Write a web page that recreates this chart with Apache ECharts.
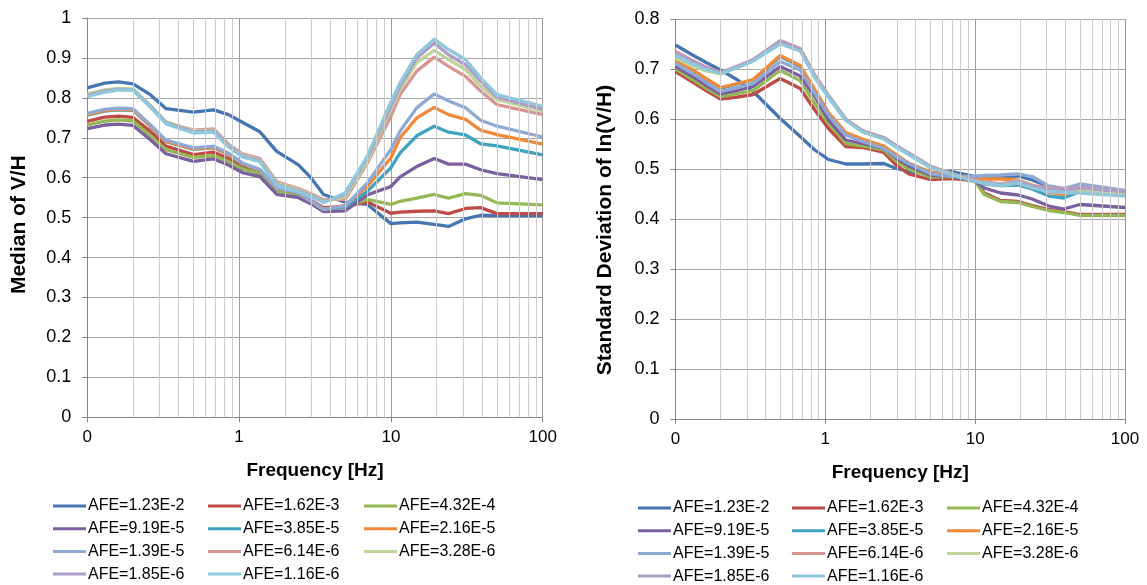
<!DOCTYPE html>
<html>
<head>
<meta charset="utf-8">
<script src="https://cdn.jsdelivr.net/npm/echarts@6/dist/echarts.min.js"></script>
<style>
html,body{margin:0;padding:0;background:#fff;}
#c{width:1147px;height:585px;}
</style>
</head>
<body>
<div id="c"></div>
<script>
// ---- data ----
const FREQ = [0.1, 0.13, 0.16, 0.2, 0.26, 0.33, 0.5, 0.68, 0.85, 1.05, 1.37, 1.77, 2.46, 2.97, 3.6, 5, 7, 10, 11.5, 14.8, 19.3, 24, 31, 39, 50, 100];
const MINOR_FREQ = [0.2,0.3,0.4,0.5,0.6,0.7,0.8,0.9,2,3,4,5,6,7,8,9,20,30,40,50,60,70,80,90];
const SERIES_NAMES = ['AFE=1.23E-2','AFE=1.62E-3','AFE=4.32E-4','AFE=9.19E-5','AFE=3.85E-5','AFE=2.16E-5','AFE=1.39E-5','AFE=6.14E-6','AFE=3.28E-6','AFE=1.85E-6','AFE=1.16E-6'];

// Median of V/H
const med_1_23e2 = [0.825,0.837,0.840,0.835,0.808,0.773,0.764,0.770,0.758,0.739,0.715,0.666,0.632,0.600,0.558,0.539,0.533,0.485,0.487,0.489,0.483,0.478,0.497,0.506,0.505,0.505];
const med_1_62e3 = [0.741,0.752,0.754,0.751,0.716,0.679,0.658,0.664,0.648,0.629,0.617,0.571,0.558,0.543,0.525,0.528,0.539,0.511,0.514,0.516,0.517,0.510,0.523,0.525,0.510,0.510];
const med_4_32e4 = [0.732,0.742,0.745,0.742,0.705,0.670,0.651,0.655,0.641,0.622,0.610,0.567,0.554,0.539,0.522,0.525,0.546,0.533,0.541,0.549,0.558,0.549,0.560,0.556,0.537,0.532];
const med_9_19e5 = [0.723,0.732,0.734,0.731,0.695,0.660,0.641,0.647,0.632,0.613,0.603,0.558,0.550,0.535,0.515,0.517,0.557,0.578,0.602,0.628,0.648,0.634,0.634,0.620,0.610,0.595];
const med_3_85e5 = [0.757,0.767,0.770,0.769,0.729,0.690,0.671,0.675,0.658,0.634,0.618,0.572,0.560,0.540,0.520,0.527,0.566,0.625,0.662,0.705,0.729,0.714,0.707,0.685,0.680,0.657];
const med_2_16e5 = [0.758,0.768,0.771,0.770,0.730,0.691,0.672,0.676,0.659,0.635,0.619,0.573,0.561,0.541,0.521,0.531,0.578,0.650,0.700,0.750,0.776,0.758,0.746,0.719,0.708,0.684];
const med_1_39e5 = [0.761,0.771,0.774,0.773,0.733,0.694,0.675,0.679,0.662,0.637,0.621,0.575,0.562,0.542,0.521,0.529,0.587,0.671,0.717,0.775,0.810,0.792,0.775,0.744,0.729,0.702];
const med_6_14e6 = [0.808,0.818,0.822,0.821,0.780,0.739,0.719,0.722,0.684,0.660,0.648,0.590,0.573,0.560,0.545,0.546,0.637,0.754,0.808,0.867,0.902,0.879,0.854,0.817,0.783,0.758];
const med_3_28e6 = [0.810,0.820,0.824,0.823,0.781,0.740,0.717,0.719,0.681,0.656,0.644,0.586,0.570,0.557,0.541,0.552,0.642,0.771,0.821,0.888,0.919,0.896,0.871,0.829,0.796,0.767];
const med_1_85e6 = [0.806,0.817,0.821,0.820,0.779,0.738,0.715,0.717,0.680,0.654,0.642,0.583,0.567,0.555,0.539,0.558,0.650,0.779,0.829,0.900,0.937,0.908,0.883,0.842,0.802,0.772];
const med_1_16e6 = [0.803,0.814,0.820,0.819,0.777,0.735,0.712,0.714,0.677,0.652,0.640,0.581,0.565,0.553,0.538,0.562,0.654,0.790,0.838,0.908,0.947,0.921,0.896,0.850,0.808,0.779];

// Standard deviation of ln(V/H)
const sd_1_23e2 = [0.748,0.728,0.713,0.698,0.678,0.655,0.601,0.565,0.538,0.519,0.510,0.510,0.511,0.501,0.495,0.490,0.495,0.485,0.485,0.485,0.486,0.478,0.465,0.457,0.462,0.453];
const sd_1_62e3 = [0.695,0.674,0.657,0.640,0.644,0.649,0.681,0.661,0.618,0.581,0.545,0.543,0.533,0.508,0.490,0.479,0.481,0.477,0.452,0.437,0.435,0.427,0.419,0.415,0.409,0.409];
const sd_4_32e4 = [0.700,0.679,0.662,0.645,0.651,0.657,0.697,0.677,0.631,0.591,0.551,0.546,0.538,0.516,0.500,0.484,0.485,0.475,0.449,0.435,0.433,0.425,0.417,0.413,0.407,0.407];
const sd_9_19e5 = [0.705,0.685,0.667,0.650,0.657,0.665,0.705,0.686,0.645,0.598,0.558,0.551,0.541,0.522,0.506,0.488,0.485,0.475,0.462,0.452,0.448,0.440,0.426,0.420,0.429,0.423];
const sd_3_85e5 = [0.715,0.697,0.679,0.661,0.670,0.678,0.725,0.705,0.658,0.611,0.571,0.558,0.545,0.528,0.511,0.493,0.486,0.476,0.470,0.467,0.468,0.460,0.446,0.442,0.455,0.448];
const sd_2_16e5 = [0.716,0.698,0.681,0.663,0.671,0.679,0.727,0.707,0.659,0.613,0.573,0.560,0.546,0.529,0.512,0.494,0.488,0.481,0.480,0.480,0.478,0.468,0.454,0.449,0.459,0.455];
const sd_1_39e5 = [0.711,0.691,0.673,0.655,0.663,0.671,0.715,0.698,0.651,0.608,0.568,0.555,0.541,0.525,0.511,0.491,0.485,0.485,0.487,0.488,0.490,0.485,0.466,0.461,0.470,0.457];
const sd_6_14e6 = [0.735,0.717,0.704,0.693,0.706,0.719,0.757,0.741,0.688,0.647,0.600,0.577,0.563,0.547,0.532,0.506,0.491,0.478,0.474,0.470,0.476,0.467,0.462,0.460,0.463,0.454];
const sd_3_28e6 = [0.722,0.706,0.696,0.690,0.703,0.716,0.752,0.738,0.684,0.644,0.597,0.574,0.560,0.544,0.530,0.505,0.490,0.476,0.472,0.468,0.477,0.466,0.459,0.458,0.456,0.452];
const sd_1_85e6 = [0.733,0.715,0.702,0.692,0.705,0.718,0.756,0.740,0.686,0.646,0.599,0.576,0.562,0.546,0.531,0.505,0.490,0.476,0.472,0.468,0.476,0.466,0.460,0.459,0.462,0.455];
const sd_1_16e6 = [0.727,0.710,0.699,0.691,0.703,0.716,0.750,0.736,0.683,0.643,0.597,0.574,0.560,0.544,0.529,0.503,0.489,0.475,0.471,0.467,0.472,0.462,0.455,0.453,0.452,0.446];

const MEDIAN = [med_1_23e2,med_1_62e3,med_4_32e4,med_9_19e5,med_3_85e5,med_2_16e5,med_1_39e5,med_6_14e6,med_3_28e6,med_1_85e6,med_1_16e6];
const STDEV = [sd_1_23e2,sd_1_62e3,sd_4_32e4,sd_9_19e5,sd_3_85e5,sd_2_16e5,sd_1_39e5,sd_6_14e6,sd_3_28e6,sd_1_85e6,sd_1_16e6];

// ---- styling ----
const COLORS = ['#4676b2','#be4b48','#94b853','#7c5f9e','#3fa3bf','#f08a3a','#8fa9d6','#d99593','#bdd597','#ae9dc8','#8fc8dc'];
const FONT = 'Liberation Sans';

const chart = echarts.init(document.getElementById('c'), null, {renderer:'canvas'});

function xAxisDef(gi){
  return {
    type:'log', logBase:10, min:0.1, max:100, gridIndex:gi,
    axisLine:{show:true, onZero:false, lineStyle:{color:'#868686', width:1}},
    axisTick:{show:true, length:5, lineStyle:{color:'#868686'}},
    axisLabel:{color:'#000', fontSize:17, fontFamily:FONT, margin:12,
      formatter:v => v < 1 ? '0' : String(Math.round(v))},
    splitLine:{show:true, lineStyle:{color:'#9a9a9a', width:1}},
    minorTick:{show:false}, minorSplitLine:{show:false},
    name:'Frequency [Hz]', nameLocation:'middle', nameGap:44,
    nameTextStyle:{color:'#000', fontSize:19, fontWeight:'bold', fontFamily:FONT}
  };
}
function yAxisDef(gi, max, name, gap, shift){
  return {
    type:'value', min:0, max:max, interval:0.1, gridIndex:gi,
    axisLine:{show:true, lineStyle:{color:'#868686', width:1}},
    axisTick:{show:true, length:5, lineStyle:{color:'#868686'}},
    axisLabel:{color:'#000', fontSize:18, fontFamily:FONT, margin:16,
      formatter:v => String(Math.round(v*10)/10)},
    splitLine:{show:true, lineStyle:{color:'#a6a6a6', width:1}},
    name:name, nameLocation:'middle', nameGap:gap,
    nameTextStyle:{color:'#000', fontSize:21, fontWeight:'bold', fontFamily:FONT, padding:[0,shift,0,0]}
  };
}

const series = [];
[0,1].forEach(gi => {
  series.push({
    type:'line', name:'minor'+gi, xAxisIndex:gi, yAxisIndex:gi, data:[], z:1,
    silent:true, symbol:'none',
    markLine:{silent:true, symbol:['none','none'], label:{show:false},
      lineStyle:{color:'#cbcbcb', width:1, type:'solid'},
      emphasis:{disabled:true},
      data: MINOR_FREQ.map(v => ({xAxis:v}))}
  });
});
const sets = [MEDIAN, STDEV];
sets.forEach((set, gi) => {
  set.forEach((vals, i) => {
    series.push({
      type:'line', name:SERIES_NAMES[i], xAxisIndex:gi, yAxisIndex:gi, z:3,
      data: FREQ.map((f, k) => [f, vals[k]]),
      symbol:'none', showSymbol:false, smooth:false,
      lineStyle:{color:COLORS[i], width:3.3},
      itemStyle:{color:COLORS[i]},
      emphasis:{disabled:true}
    });
  });
});

const COLS = [
  [SERIES_NAMES[0],SERIES_NAMES[3],SERIES_NAMES[6],SERIES_NAMES[9]],
  [SERIES_NAMES[1],SERIES_NAMES[4],SERIES_NAMES[7],SERIES_NAMES[10]],
  [SERIES_NAMES[2],SERIES_NAMES[5],SERIES_NAMES[8]]
];
const LEG_TEXT = {color:'#000', fontSize:16, fontFamily:FONT, padding:[0,0,0,-3]};
const legends = [];
const legendPos = [
  {lefts:[53,208,364], top:498},
  {lefts:[638,792,947], top:500}
];
legendPos.forEach(p => {
  COLS.forEach((col, ci) => {
    legends.push({
      orient:'vertical', left:p.lefts[ci], top:p.top, padding:0,
      itemWidth:33, itemHeight:14, itemGap:6.7,
      icon:'path://M0,6 L33,6 L33,9 L0,9 Z',
      selectedMode:false,
      textStyle:LEG_TEXT,
      data: col.map(n => ({name:n, textStyle:LEG_TEXT, itemStyle:{color:COLORS[SERIES_NAMES.indexOf(n)]}}))
    });
  });
});

chart.setOption({
  animation:false,
  backgroundColor:'#fff',
  textStyle:{fontFamily:FONT},
  grid:[
    {left:87.3, right:604.3, top:18, bottom:167.7, containLabel:false},
    {left:675.5, right:22, top:19, bottom:166, containLabel:false}
  ],
  xAxis:[xAxisDef(0), xAxisDef(1)],
  yAxis:[yAxisDef(0,1,'Median of V/H',58,14), yAxisDef(1,0.8,'Standard Deviation of ln(V/H)',60,22)],
  legend: legends,
  series: series
});
</script>
</body>
</html>
